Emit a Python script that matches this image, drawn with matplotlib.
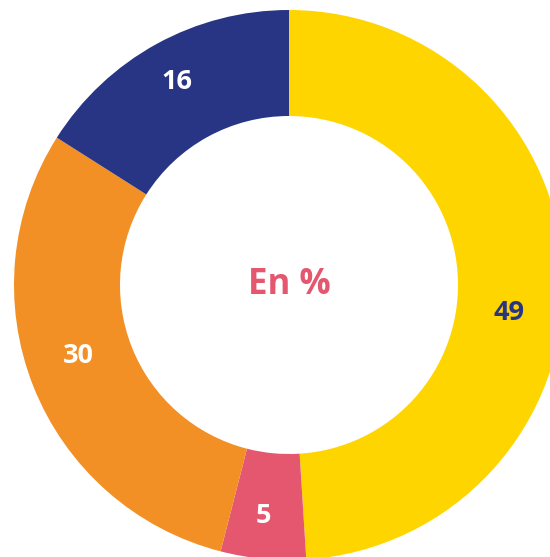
import numpy as np
import matplotlib
matplotlib.use('Agg')
from matplotlib import pyplot as plt

values = [49, 5, 30, 16]
labels = ['49', '5', '30', '16']
colors = ['#FFD500', '#E5566F', '#F29025', '#283584']
label_colors = ['#283584', 'white', 'white', 'white']
center_text = 'En %'

W, H = 550, 557
cx, cy = 289, 557 - 285
r_out = 275
r_in = 169

fig = plt.figure(figsize=(W / 100, H / 100), dpi=100)
ax = fig.add_axes([0, 0, 1, 1])

width = (r_out - r_in) / r_out
wedges, _ = ax.pie(values, colors=colors, startangle=90, counterclock=False,
                   radius=1, wedgeprops=dict(width=width, linewidth=0))

# pie() resets the limits, so place the view afterwards
ax.set_xlim(-cx / r_out, (W - cx) / r_out)
ax.set_ylim(-cy / r_out, (H - cy) / r_out)
ax.set_aspect('equal')
ax.axis('off')

# labels in the middle of the ring, small tweaks to match the original layout
angle_shift = [-9, -1, -3, 0]
radius_shift = [0, 10, 0, 10]
r_lab = 1 - width / 2
for w, lab, col, sh, dr in zip(wedges, labels, label_colors, angle_shift, radius_shift):
    ang = np.deg2rad((w.theta1 + w.theta2) / 2 + sh)
    rr = r_lab + dr / r_out
    ax.text(rr * np.cos(ang), rr * np.sin(ang), lab, color=col,
            ha='center', va='center', fontsize=19.5, fontweight='bold',
            family='Open Sans')

ax.text(0, 0, center_text, color='#E5566F', ha='center', va='center',
        fontsize=25, fontweight='bold', family='Open Sans')

fig.savefig('out.png', dpi=100)
plt.close(fig)
